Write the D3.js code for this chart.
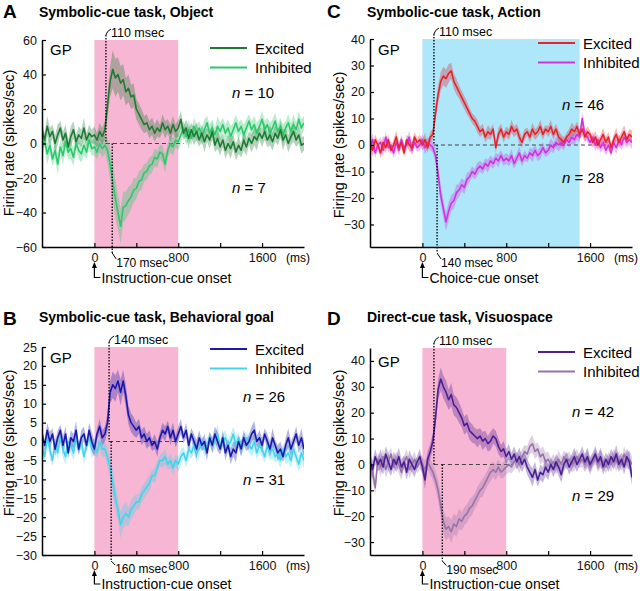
<!DOCTYPE html>
<html><head><meta charset="utf-8">
<script src="https://cdn.jsdelivr.net/npm/d3@7"></script>
<style>
body{margin:0;background:#fff}
svg{font-family:"Liberation Sans",Arial,Helvetica,sans-serif}
</style>
</head><body>
<svg id="chart" width="640" height="591"></svg>
<script>
// ---------- time bins (ms): -500 .. 2000, 25-ms bins ----------
const binStart = -500, binStep = 25;

// ---------- Panel A: Symbolic-cue task, Object ----------
const aExc = [8,2,10,4,7,0,5,9,2,6,-2,4,8,1,5,3,9,2,6,4, 5,2,7,4,
  8,22,36,43,38,40,35,37,30,32,27,28,20,17,14,11,12,8,10,6,9,7,12,8,10,6,11,7,9,
  14,6,9,3,8,4,7,2,6,1,5,2,7,-1,3,-2,2,-4,0,-3,1,-5,-1,-4,2,-2,3,0,4,2,6,3,7,2,5,1,6,3,8,2,5,0,4,7,2,5,-1,0];
const aInh = [-3,2,-6,-1,-9,-4,-12,-2,-7,1,-5,-3,-8,0,-4,-6,-1,-5,2,-3, -2,-5,0,-3,
  -1,-4,-12,-22,-32,-40,-48,-37,-36,-33,-31,-27,-26,-22,-21,-17,-16,-13,-12,-8,-9,-5,-6,-12,-4,0,-2,2,1,
  5,9,4,8,3,10,6,9,4,8,12,6,9,5,10,7,11,6,9,4,8,12,7,10,5,9,13,8,11,6,10,14,8,11,6,9,13,7,10,5,9,12,7,11,8,14,9,12];
const semA = [5,4,6,5,4,5,6,4,5,5,4,6,5,4,5,5,6,4,5,4,5,4,5,5,
  5,7,9,11,11,10,10,9,8,8,7,7,6,6,6,5,5,5,5,5,5,4,5,5,4,5,5,4,5,
  5,4,5,6,4,5,5,4,5,6,4,5,5,4,6,5,4,5,5,6,4,5,5,4,6,5,4,5,5,6,4,5,5,4,6,5,5,4,5,6,4,5,5,6,4,5,5,4];

// ---------- Panel B: Symbolic-cue task, Behavioral goal ----------
const bExc = [2,-1,3,0,2,-2,1,3,-1,2,-3,1,0,3,-2,1,2,-1,3,0, -2,2,4,1,
  2,5,13,15,14,16,13,16,12,7,5,4,3,4,1,2,0,1,-1,0,-2,1,3,2,4,1,3,0,2,
  4,1,3,-1,2,0,-2,1,-1,0,-3,1,-1,2,0,-2,1,-3,-1,-4,-2,-3,0,-2,1,-1,0,2,3,0,1,-1,2,0,-2,1,-1,-3,-2,-4,-1,1,-2,0,2,-1,1,-2];
const bInh = [-1,-4,1,-2,-5,0,-3,1,-2,-4,0,-1,-3,1,-2,0,-4,-1,1,-2, -1,-3,0,-2,
  -2,-4,-7,-11,-15,-18,-22,-20,-19,-20,-18,-17,-16,-16,-14,-13,-12,-11,-9,-9,-7,-5,-5,-4,-6,-5,-7,-5,-6,
  -4,-3,-5,-2,-3,-1,-3,-2,0,-2,-1,1,-1,0,2,-1,0,1,-1,0,2,-1,1,-2,0,1,-1,-2,0,-3,-1,-2,-4,-1,-3,-2,-4,-3,-5,-2,-4,-3,-5,-2,-4,-6,-3,-5];
const semB = [2,1.5,2,2.5,1.5,2,2,1.5,2.5,2,1.5,2,2,2.5,1.5,2,2,1.5,2,2.5,2,1.5,2,2,
  2,2.5,3,3.5,3.5,3,3.5,3,3,2.5,2.5,2.5,2,2,2,2,2,2,1.5,2,2,1.5,2,2,1.5,2,2,1.5,2,
  2,1.5,2,2,1.5,2,2.5,2,1.5,2,2,1.5,2,2,2.5,1.5,2,2,1.5,2,2,2.5,1.5,2,2,1.5,2,2,2.5,1.5,2,2,1.5,2,2,2.5,1.5,2,2,1.5,2,2.5,2,1.5,2,2,2.5,2];

// ---------- Panel C: Symbolic-cue task, Action ----------
const cExc = [1,-2,2,0,-3,1,-1,2,-2,0,3,-1,1,-3,2,0,-1,3,1,2, 0,2,-1,3,
  4,12,19,24,26,25,27,28,24,22,20,18,16,14,12,10,9,7,5,6,3,5,4,6,-1,4,6,3,5,
  4,7,5,6,3,1,4,5,3,6,4,5,7,4,6,5,7,4,6,3,2,1,3,4,6,5,7,4,6,3,5,4,1,3,0,2,4,1,3,-1,2,4,1,3,5,2,4,3];
const cInh = [-1,2,-3,0,1,-2,3,-1,0,-3,1,-2,2,-1,0,3,-2,1,-1,0, 2,-1,1,0,
  -1,-4,-11,-19,-24,-29,-25,-22,-21,-18,-17,-15,-16,-13,-12,-10,-11,-9,-8,-9,-7,-8,-6,-7,-5,-6,-4,-6,-5,
  -6,-4,-7,-5,-3,-6,-4,-5,-3,-4,-2,-4,-3,-1,-3,-2,0,-1,1,0,1,0,2,1,3,2,4,3,10,4,3,1,3,0,2,-1,1,-2,0,-3,1,-1,2,0,3,1,2,1];
const semC = [2,2.5,2,1.5,2,2.5,2,2,1.5,2,2.5,2,2,1.5,2,2.5,2,2,1.5,2,2,2.5,2,2,
  2,3,3.5,3.5,3.5,3.5,3.5,3,3,3,2.5,2.5,2.5,2.5,2,2,2,2.5,2,2,2,2.5,2,2,2,2.5,2,2,2,
  2,2.5,2,2,2.5,2,2,1.5,2,2.5,2,2,2.5,2,1.5,2,2.5,2,2,2.5,2,2,1.5,2,2.5,2,2,2,2.5,2,2,1.5,2,2.5,2,2,2.5,2,2,1.5,2,2.5,2,2,2.5,2,2,2.5];

// ---------- Panel D: Direct-cue task, Visuospace ----------
const dExc = [1,-2,3,0,2,-1,4,1,-2,2,0,3,-1,1,-3,2,0,-2,1,3, -1,-6,2,5,
  9,18,29,33,30,28,25,27,23,22,20,18,15,16,13,12,11,10,11,9,10,8,9,11,10,7,5,6,3,
  5,2,4,1,3,0,2,-1,-3,-5,-2,-6,-3,-4,-1,-3,0,-2,1,-1,-4,0,2,-1,1,3,0,2,4,1,3,0,2,4,1,3,-1,2,0,3,1,4,0,2,-1,3,1,-5];
const dInh = [0,-3,-9,2,-1,3,-2,1,4,-1,2,0,-3,1,3,-2,0,2,-1,1, 0,-2,1,-1,
  -3,-6,-10,-16,-22,-25,-24,-26,-23,-24,-21,-22,-20,-19,-17,-16,-14,-12,-10,-9,-7,-5,-3,-2,-3,-1,-3,-2,-1,
  0,-1,1,2,0,3,5,4,7,8,5,6,3,4,1,2,0,1,-1,2,0,3,1,2,0,1,3,1,2,0,2,-1,1,3,0,2,1,-1,2,0,3,1,2,0,4,1,2,0];
const semD = [3,3.5,3,2.5,4,3,3,3.5,2.5,3,3,3.5,3,2.5,3,3.5,3,3,2.5,3,3,3.5,3,3,
  3,3.5,4,4.5,4.5,4.5,4,4.5,4,4,4,3.5,3.5,3.5,3.5,3.5,3,3.5,3,3.5,3,3,3.5,3,3,3,2.5,3,3,
  3,2.5,3,3,3.5,3,2.5,3,3,3.5,3,2.5,3,3,3.5,3,2.5,3,3,3.5,3,2.5,3,3,3,3.5,3,2.5,3,3,3.5,3,2.5,3,3,3.5,3,2.5,3,3,3,3.5,3,2.5,3,3,3.5,3];

// ---------- labels / categories ----------
const panelLetters = ["A","B","C","D"];
const titles = ["Symbolic-cue task, Object","Symbolic-cue task, Behavioral goal","Symbolic-cue task, Action","Direct-cue task, Visuospace"];
const yDomains = [[-60,60],[-30,25],[-38.5,40],[-35,45]];
const yTicks = [[-60,-40,-20,0,20,40,60],[-30,-25,-20,-15,-10,-5,0,5,10,15,20,25],[-30,-20,-10,0,10,20,30,40],[-30,-20,-10,0,10,20,30,40]];
const xDomain = [-500,2000];
const xTicks = [0,400,800,1200,1600];
const xTickLabels = [0,800,1600];
const shadeEnd = [800,800,1500,800];
const dashEnd = [850,850,1750,850];
const onsetLabels = ["Instruction-cue onset","Instruction-cue onset","Choice-cue onset","Instruction-cue onset"];
const latTop = [110,140,110,110];
const latBottom = [170,160,140,190];
const nExc = [10,26,46,42];
const nInh = [7,31,28,29];
const seriesNames = ["Excited","Inhibited"];
const excData = [aExc,bExc,cExc,dExc];
const inhData = [aInh,bInh,cInh,dInh];
const semData = [semA,semB,semC,semD];

// ---------- styles / layout ----------
const excColors = ["#1f7a33","#1a1aaa","#e8222a","#4c1f93"];
const inhColors = ["#2cc86a","#40d5ea","#d530e0","#9873a9"];
const shadeColors = ["#f7b6d3","#f7b6d3","#aee7fa","#f7b6d3"];
const W = 262;
const layout = [
  {x0:42, top:40, bottom:247, letterX:3, letterY:18, titleX:39, titleY:17, legY:8, gpY:15, nX:190, nY:[58,153], ylabX:14, ylabY:143, onsetDy:35.5, latDy:20},
  {x0:42, top:347, bottom:555, letterX:3, letterY:325, titleX:39, titleY:322, legY:2, gpY:16, nX:201, nY:[55,138], ylabX:14, ylabY:443, onsetDy:34, latDy:18},
  {x0:370, top:39, bottom:247, letterX:327, letterY:18, titleX:367, titleY:17, legY:4, gpY:16, nX:192, nY:[71,144], ylabX:344, ylabY:145, onsetDy:35.5, latDy:20},
  {x0:370, top:348, bottom:555, letterX:327, letterY:325, titleX:367, titleY:322, legY:4, gpY:19, nX:202, nY:[69,153], ylabX:344, ylabY:443, onsetDy:34, latDy:18.5}
];

const svg = d3.select("#chart");
const defs = svg.append("defs");

layout.forEach((L, p) => {
  const x = d3.scaleLinear().domain(xDomain).range([L.x0, L.x0 + W]);
  const y = d3.scaleLinear().domain(yDomains[p]).range([L.bottom, L.top]);
  const g = svg.append("g");

  defs.append("clipPath").attr("id", "clip" + p).append("rect")
    .attr("x", L.x0).attr("y", L.top).attr("width", W).attr("height", L.bottom - L.top);

  // panel letter + title
  g.append("text").attr("x", L.letterX).attr("y", L.letterY).attr("font-size", 19).attr("font-weight", "bold").text(panelLetters[p]);
  g.append("text").attr("x", L.titleX).attr("y", L.titleY).attr("font-size", 14).attr("font-weight", "bold").text(titles[p]);

  // shaded epoch
  g.append("rect").attr("x", x(0)).attr("y", L.top).attr("width", x(shadeEnd[p]) - x(0)).attr("height", L.bottom - L.top)
    .attr("fill", shadeColors[p]);

  // dashed zero line
  g.append("line").attr("x1", x(latTop[p])).attr("x2", x(dashEnd[p])).attr("y1", y(0)).attr("y2", y(0))
    .attr("stroke", "#444").attr("stroke-width", 1.1).attr("stroke-dasharray", "4,3");

  const n = Math.min(excData[p].length, inhData[p].length, semData[p].length);
  const pts = d3.range(n).map(i => ({t: binStart + i * binStep, e: excData[p][i], h: inhData[p][i], s: semData[p][i]}));

  const plot = g.append("g").attr("clip-path", `url(#clip${p})`);
  const series = [{key:"h", col:inhColors[p]}, {key:"e", col:excColors[p]}];
  series.forEach(S => {
    plot.append("path").datum(pts)
      .attr("d", d3.area().x(d => x(d.t)).y0(d => y(d[S.key] - d.s)).y1(d => y(d[S.key] + d.s)))
      .attr("fill", S.col).attr("fill-opacity", 0.33);
  });
  series.forEach(S => {
    plot.append("path").datum(pts)
      .attr("d", d3.line().x(d => x(d.t)).y(d => y(d[S.key])))
      .attr("fill", "none").attr("stroke", S.col).attr("stroke-width", 1.6).attr("stroke-linejoin", "round");
  });

  // latency markers
  const xt = x(latTop[p]), xb = x(latBottom[p]);
  g.append("line").attr("x1", xt).attr("x2", xt).attr("y1", L.top - 5).attr("y2", y(0))
    .attr("stroke", "#000").attr("stroke-width", 1.3).attr("stroke-dasharray", "1.5,1.5");
  g.append("path").attr("d", `M${xt},${L.top - 5} Q${xt + 1},${L.top - 9} ${xt + 5},${L.top - 11}`)
    .attr("fill", "none").attr("stroke", "#000").attr("stroke-width", 1);
  g.append("text").attr("x", xt + 5).attr("y", L.top - 3).attr("font-size", 12.5).text(latTop[p] + " msec");

  g.append("line").attr("x1", xb).attr("x2", xb).attr("y1", y(0)).attr("y2", L.bottom + 6)
    .attr("stroke", "#000").attr("stroke-width", 1.3).attr("stroke-dasharray", "1.5,1.5");
  g.append("path").attr("d", `M${xb},${L.bottom + 6} L${xb + 4},${L.bottom + L.latDy - 8}`)
    .attr("fill", "none").attr("stroke", "#000").attr("stroke-width", 1);
  g.append("text").attr("x", xb + 4).attr("y", L.bottom + L.latDy).attr("font-size", 12).text(latBottom[p] + " msec");

  // axes
  const ya = g.append("g").attr("transform", `translate(${L.x0},0)`)
    .call(d3.axisLeft(y).tickValues(yTicks[p]).tickSizeInner(-4).tickSizeOuter(0).tickPadding(5));
  const xa = g.append("g").attr("transform", `translate(0,${L.bottom})`)
    .call(d3.axisBottom(x).tickValues(xTicks).tickSizeInner(-4).tickSizeOuter(0).tickPadding(6)
      .tickFormat(d => xTickLabels.includes(d) ? d : ""));
  [ya, xa].forEach(a => {
    a.select(".domain").attr("stroke", "#000").attr("stroke-width", 1.5);
    a.selectAll(".tick line").attr("stroke", "#000").attr("stroke-width", 1.2);
    a.selectAll(".tick text").attr("font-size", 12.5).attr("fill", "#111").attr("font-family", "Liberation Sans, Arial, sans-serif");
  });
  g.append("text").attr("x", L.x0 + 268).attr("y", L.bottom + 15).attr("text-anchor", "end").attr("font-size", 12).text("(ms)");

  // y label
  g.append("text").attr("transform", `translate(${L.ylabX},${L.ylabY}) rotate(-90)`).attr("text-anchor", "middle")
    .attr("font-size", 14.5).text("Firing rate (spikes/sec)");

  // onset arrow
  const x0 = x(0), ay = L.bottom + 15, cy = L.bottom + L.onsetDy - 5;
  g.append("path").attr("d", `M${x0},${ay} L${x0 - 2.5},${ay + 6} L${x0 + 2.5},${ay + 6} Z`).attr("fill", "#000");
  g.append("path").attr("d", `M${x0},${ay + 5} L${x0},${cy} L${x0 + 6},${cy}`).attr("fill", "none").attr("stroke", "#000").attr("stroke-width", 1.2);
  g.append("text").attr("x", x0 + 7).attr("y", L.bottom + L.onsetDy).attr("font-size", 14).text(onsetLabels[p]);

  // GP label
  g.append("text").attr("x", L.x0 + 8).attr("y", L.top + L.gpY).attr("font-size", 15).text("GP");

  // legend
  [excColors[p], inhColors[p]].forEach((c, k) => {
    const ly = L.top + L.legY + k * 19.5;
    g.append("line").attr("x1", L.x0 + 168).attr("x2", L.x0 + 205).attr("y1", ly).attr("y2", ly)
      .attr("stroke", c).attr("stroke-width", 2.2);
    g.append("text").attr("x", L.x0 + 213).attr("y", ly + 5.5).attr("font-size", 15).text(seriesNames[k]);
  });

  // n labels
  [nExc[p], nInh[p]].forEach((v, k) => {
    const t = g.append("text").attr("x", L.x0 + L.nX).attr("y", L.top + L.nY[k]).attr("font-size", 15);
    t.append("tspan").attr("font-style", "italic").text("n");
    t.append("tspan").text(" = " + v);
  });
});
</script>
</body></html>
